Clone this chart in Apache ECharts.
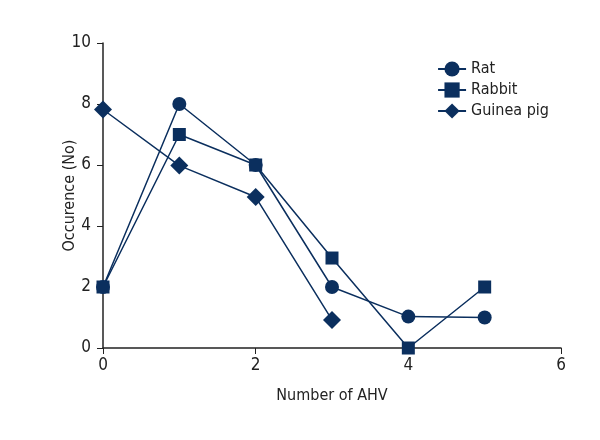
<!DOCTYPE html>
<html><head><meta charset="utf-8">
<script src="https://cdn.jsdelivr.net/npm/echarts@6/dist/echarts.min.js"></script>
<style>html,body{margin:0;padding:0;background:#fff}#c{width:600px;height:440px}</style>
</head><body><div id="c"></div>
<script>
const xTicks = [0, 2, 4, 6];
const yTicks = [0, 2, 4, 6, 8, 10];
const seriesNames = ['Rat', 'Rabbit', 'Guinea pig'];
const ratX = [0, 1, 2, 3, 4, 5];
const ratY = [2, 8, 6, 2, 1.03, 1];
const rabbitX = [0, 1, 2, 3, 4, 5];
const rabbitY = [2, 7, 6, 2.95, 0, 2];
const guineaX = [0, 1, 2, 3];
const guineaY = [7.82, 5.98, 4.95, 0.92];

const color = '#0b2f5e';
const font = '"DejaVu Sans Condensed", "Liberation Sans Narrow", sans-serif';
function pairs(xs, ys){ return xs.map((x,i)=>[x, ys[i]]); }
const chart = echarts.init(document.getElementById('c'));
const mk = (name, xs, ys, sym, size) => ({
  name, type: 'line', data: pairs(xs, ys), symbol: sym, symbolSize: size,
  lineStyle: {color, width: 1.5}, itemStyle: {color}, showSymbol: true, z: 3
});
chart.setOption({
  animation: false,
  color: [color],
  legend: {
    orient: 'vertical', right: 46, top: 56, itemGap: 5, itemWidth: 28, itemHeight: 19,
    textStyle: {fontFamily: font, fontSize: 16, color: '#222'},
    data: seriesNames
  },
  grid: {left: 103, right: 39, top: 43, bottom: 92},
  xAxis: {
    type: 'value', min: 0, max: 6, interval: 2,
    name: 'Number of AHV', nameLocation: 'middle', nameGap: 40,
    nameTextStyle: {fontFamily: font, fontSize: 16, color: '#222'},
    axisLine: {lineStyle: {color: '#222', width: 1.5}},
    axisTick: {show: true, length: 6, lineStyle: {color: '#222'}},
    axisLabel: {fontFamily: font, fontSize: 17, color: '#222', margin: 9},
    splitLine: {show: false}
  },
  yAxis: {
    type: 'value', min: 0, max: 10, interval: 2,
    name: 'Occurence (No)', nameLocation: 'middle', nameGap: 25, nameMoveOverlap: false,
    nameTextStyle: {fontFamily: font, fontSize: 16, color: '#222'},
    axisLine: {show: true, lineStyle: {color: '#222', width: 1.5}},
    axisTick: {show: true, length: 6, lineStyle: {color: '#222'}},
    axisLabel: {fontFamily: font, fontSize: 17, color: '#222', margin: 12},
    splitLine: {show: false}
  },
  series: [
    mk(seriesNames[0], ratX, ratY, 'circle', 14),
    mk(seriesNames[1], rabbitX, rabbitY, 'rect', 13),
    mk(seriesNames[2], guineaX, guineaY, 'diamond', 18)
  ]
});
</script></body></html>
